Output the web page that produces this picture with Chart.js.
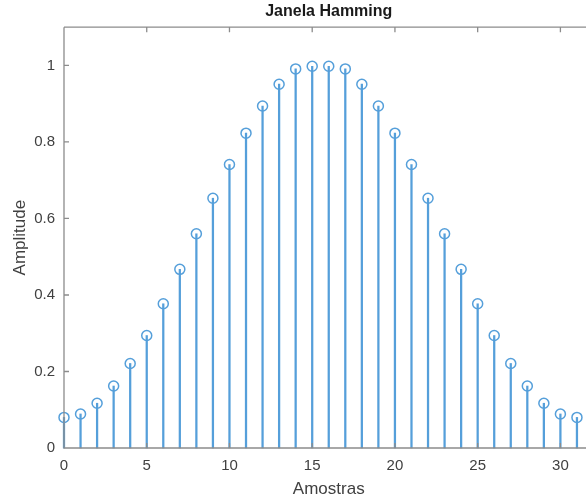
<!DOCTYPE html>
<html>
<head>
<meta charset="utf-8">
<script src="https://cdn.jsdelivr.net/npm/chart.js@4/dist/chart.umd.min.js"></script>
<style>
html,body{margin:0;padding:0;background:#fff;overflow:hidden;width:586px;height:501px;}
#wrap{position:absolute;left:0;top:0;width:600px;height:501px;}
</style>
</head>
<body>
<div id="wrap"><canvas id="c" width="600" height="501"></canvas></div>
<script>
const titleText = "Janela Hamming";
const xLabel = "Amostras";
const yLabel = "Amplitude";
const samples = [0,1,2,3,4,5,6,7,8,9,10,11,12,13,14,15,16,17,18,19,20,21,22,23,24,25,26,27,28,29,30,31];
const amplitude = [0.080,0.089,0.117,0.162,0.221,0.294,0.377,0.467,0.560,0.653,0.741,0.823,0.894,0.951,0.991,0.998,
                   0.998,0.991,0.951,0.894,0.823,0.741,0.653,0.560,0.467,0.377,0.294,0.221,0.162,0.117,0.089,0.080];
const xTicks = [0,5,10,15,20,25,30];
const yTicks = [0,0.2,0.4,0.6,0.8,1];
const yTickLabels = ['0','0.2','0.4','0.6','0.8','1'];

const stemColor = '#559fda';
const axisColor = '#8c8c8c';
const textColor = '#404040';

const points = samples.map((x,i)=>({x:x, y:amplitude[i]}));

const boxPlugin = {
  id:'box',
  afterDraw(chart){
    const {ctx, chartArea:a, scales:{x,y}} = chart;
    ctx.save();
    ctx.strokeStyle = axisColor;
    ctx.lineWidth = 1.3;
    ctx.beginPath();
    ctx.moveTo(a.left, a.top); ctx.lineTo(a.right, a.top);
    ctx.moveTo(a.left, a.top); ctx.lineTo(a.left, a.bottom);
    ctx.lineTo(a.right, a.bottom);
    const L = 5;
    x.ticks.forEach(t=>{
      const px = x.getPixelForValue(t.value);
      ctx.moveTo(px, a.bottom); ctx.lineTo(px, a.bottom - L);
      ctx.moveTo(px, a.top); ctx.lineTo(px, a.top + L);
    });
    y.ticks.forEach(t=>{
      const py = y.getPixelForValue(t.value);
      ctx.moveTo(a.left, py); ctx.lineTo(a.left + L, py);
    });
    ctx.stroke();
    ctx.restore();
  }
};

new Chart(document.getElementById('c'), {
  data:{
    datasets:[
      {type:'bar', data:points, backgroundColor:stemColor, borderWidth:0,
       barThickness:1.6, order:2, clip:false},
      {type:'scatter', data:points, pointStyle:'circle', pointRadius:5,
       pointBorderWidth:1.5, pointBorderColor:stemColor, pointBackgroundColor:'rgba(0,0,0,0)',
       showLine:false, order:1, clip:false}
    ]
  },
  options:{
    responsive:false,
    animation:false,
    layout:{padding:{left:0,right:4,top:0,bottom:0}},
    plugins:{
      legend:{display:false},
      tooltip:{enabled:false},
      title:{display:true, text:titleText, fullSize:false, color:'#1a1a1a',
             font:{family:'Liberation Sans', size:16, weight:'bold'},
             padding:{top:2, bottom:6}}
    },
    scales:{
      x:{type:'linear', min:0, max:32, offset:false,
         grid:{display:false, drawTicks:false},
         border:{display:false},
         afterBuildTicks(s){ s.ticks = xTicks.map(v=>({value:v})); },
         afterFit(s){ s.height = 53; },
         ticks:{color:textColor, padding:9, maxRotation:0, autoSkip:false,
                font:{family:'Liberation Sans', size:15}},
         title:{display:true, text:xLabel, color:textColor,
                font:{family:'Liberation Sans', size:17}, padding:{top:0,bottom:1}}
      },
      y:{type:'linear', min:0, max:1.1,
         grid:{display:false, drawTicks:false},
         border:{display:false},
         afterBuildTicks(s){ s.ticks = yTicks.map(v=>({value:v})); },
         afterFit(s){ s.width = 64; },
         ticks:{color:textColor, padding:9, autoSkip:false,
                font:{family:'Liberation Sans', size:15},
                callback(v){ const i = yTicks.indexOf(v); return i >= 0 ? yTickLabels[i] : ''; }},
         title:{display:true, text:yLabel, color:textColor,
                font:{family:'Liberation Sans', size:17}, padding:{top:10,bottom:0}}
      }
    }
  },
  plugins:[boxPlugin]
});
</script>
</body>
</html>
